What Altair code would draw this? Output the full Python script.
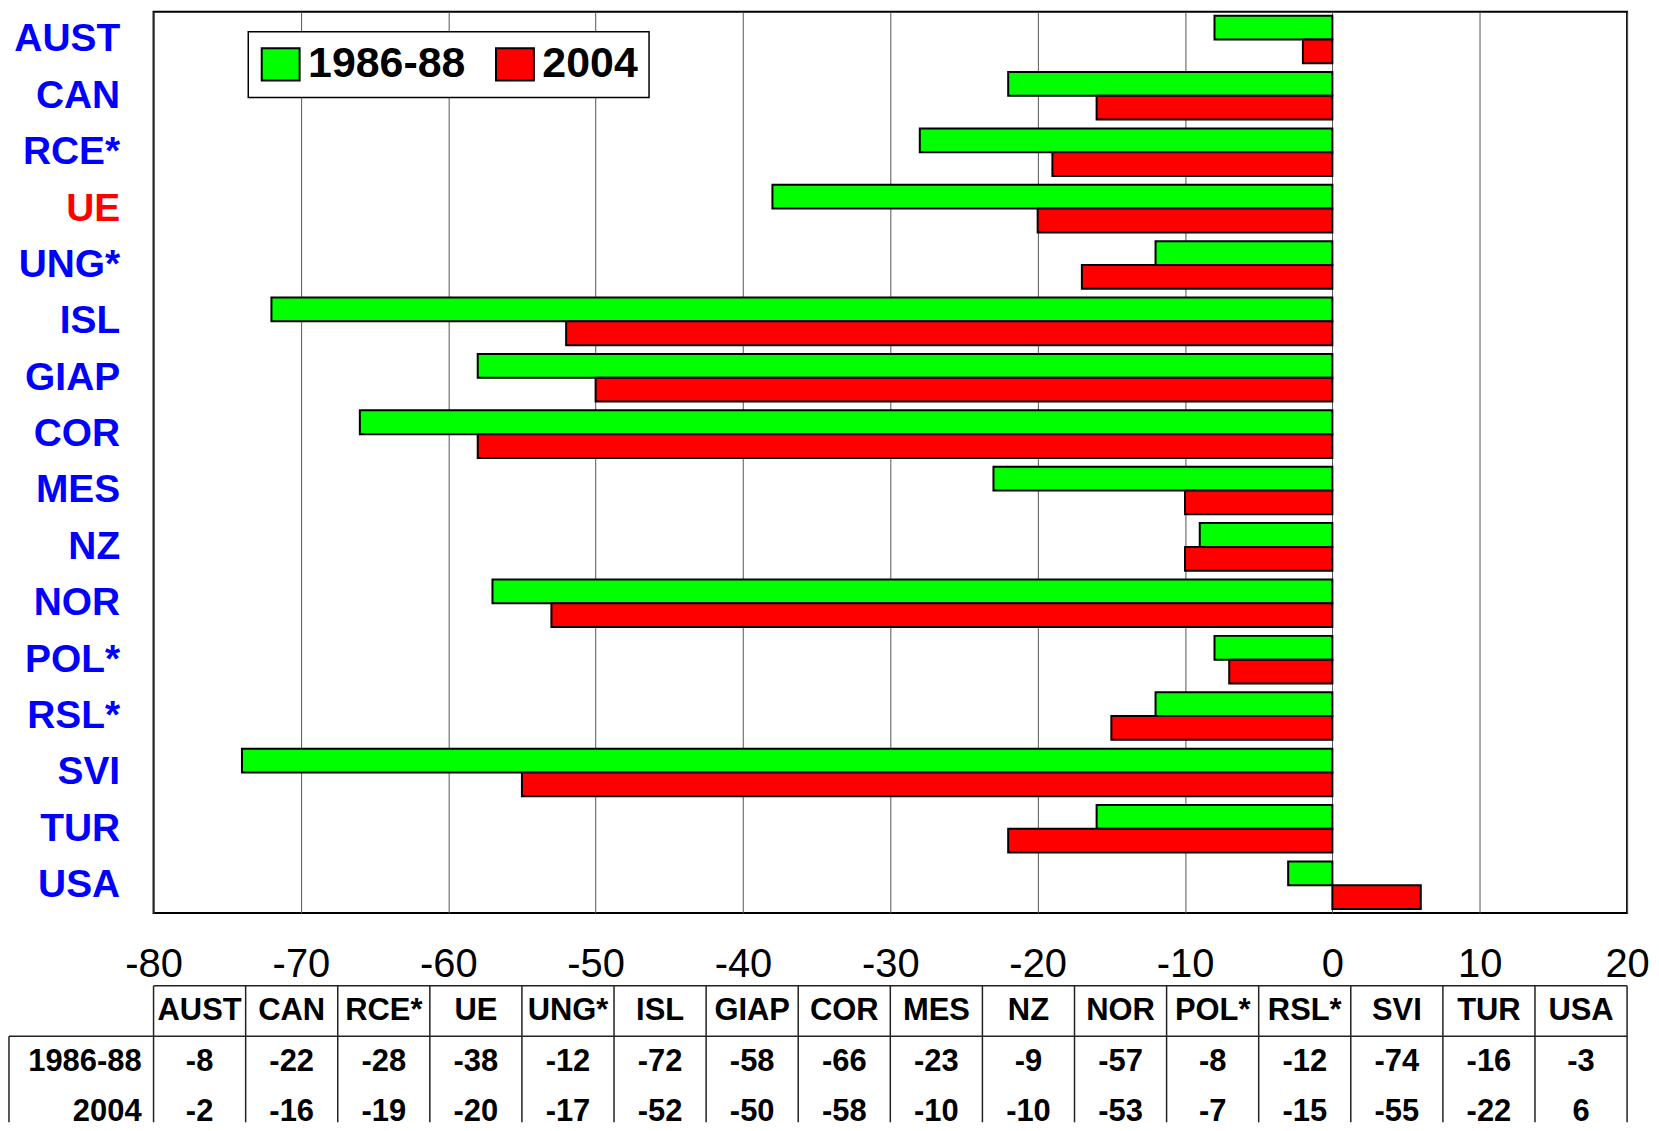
import altair as alt
import pandas as pd

# ---- data ----
countries = ["AUST", "CAN", "RCE*", "UE", "UNG*", "ISL", "GIAP", "COR",
             "MES", "NZ", "NOR", "POL*", "RSL*", "SVI", "TUR", "USA"]
series = ["1986-88", "2004"]
v1986 = [-8, -22, -28, -38, -12, -72, -58, -66, -23, -9, -57, -8, -12, -74, -16, -3]
v2004 = [-2, -16, -19, -20, -17, -52, -50, -58, -10, -10, -53, -7, -15, -55, -22, 6]
x_ticks = [-80, -70, -60, -50, -40, -30, -20, -10, 0, 10, 20]
colors = ["#00FF00", "#FF0000"]

FONT = "Liberation Sans, Arial, sans-serif"

# ---- bar chart ----
rows = []
for c, a, b in zip(countries, v1986, v2004):
    rows.append({"country": c, "series": series[0], "value": a})
    rows.append({"country": c, "series": series[1], "value": b})
bars_df = pd.DataFrame(rows)

bars = alt.Chart(bars_df).mark_bar(stroke="black", strokeWidth=2).encode(
    x=alt.X("value:Q",
            scale=alt.Scale(domain=[-80, 20], nice=False, zero=False),
            axis=alt.Axis(values=x_ticks, title=None, grid=True, gridColor="#555555",
                          gridWidth=1, domain=False, ticks=False, labelFontSize=40,
                          labelFont=FONT, labelColor="black", labelPadding=32,
                          labelExpr="'' + datum.value",
                          labelFlush=False, labelOverlap=False)),
    y=alt.Y("country:N", sort=countries,
            scale=alt.Scale(paddingInner=0.156, paddingOuter=0.07),
            axis=alt.Axis(title=None, domain=False, ticks=False, labelFontSize=39,
                          labelFontWeight="bold", labelFont=FONT,
                          labelColor=alt.expr("datum.value == 'UE' ? '#ff0000' : '#0000ff'"),
                          labelPadding=34)),
    yOffset=alt.YOffset("series:N", sort=series, scale=alt.Scale(paddingInner=0, paddingOuter=0)),
    color=alt.Color("series:N", sort=series,
                    scale=alt.Scale(domain=series, range=colors),
                    legend=alt.Legend(title=None, orient="none", legendX=95, legendY=20,
                                      direction="horizontal", fillColor="white",
                                      strokeColor="black", padding=11,
                                      symbolType="M-1,-0.85L1,-0.85L1,0.85L-1,0.85Z",
                                      symbolSize=1444, symbolStrokeColor="black",
                                      symbolStrokeWidth=2, symbolOpacity=1,
                                      labelFontSize=43, labelFontWeight="bold",
                                      labelFont=FONT, labelColor="black", labelOffset=6,
                                      columnPadding=26, labelLimit=400)),
).properties(width=1478, height=904,
             view=alt.ViewBackground(stroke="black", strokeWidth=2))

# ---- data table below the axis ----
LABEL_LEFT = -1.57   # left edge of the row-label column, in column units
TABLE_BOTTOM = 2.7

ncol = len(countries)
header_df = pd.DataFrame({"text": countries,
                          "col": [i + 0.5 for i in range(ncol)],
                          "row": [0.5] * ncol})
val_rows = []
for i, (a, b) in enumerate(zip(v1986, v2004)):
    val_rows.append({"text": str(a), "col": i + 0.5, "row": 1.5})
    val_rows.append({"text": str(b), "col": i + 0.5, "row": 2.5})
vals_df = pd.DataFrame(val_rows)
rowlab_df = pd.DataFrame({"text": series, "col": [0, 0], "row": [1.5, 2.5]})

line_rows = []
for i in range(ncol + 1):
    line_rows.append({"x": i, "x2": i, "y": 0, "y2": TABLE_BOTTOM})
line_rows.append({"x": LABEL_LEFT, "x2": LABEL_LEFT, "y": 1, "y2": TABLE_BOTTOM})
line_rows.append({"x": 0, "x2": ncol, "y": 0, "y2": 0})
line_rows.append({"x": LABEL_LEFT, "x2": ncol, "y": 1, "y2": 1})
lines_df = pd.DataFrame(line_rows)

xs = alt.Scale(domain=[0, ncol], nice=False, zero=False)
ys = alt.Scale(domain=[0, TABLE_BOTTOM], nice=False, zero=False, reverse=True)

tlines = alt.Chart(lines_df).mark_rule(color="#222222", strokeWidth=1.5).encode(
    x=alt.X("x:Q", scale=xs, axis=None), x2="x2:Q",
    y=alt.Y("y:Q", scale=ys, axis=None), y2="y2:Q")

theader = alt.Chart(header_df).mark_text(fontSize=31, fontWeight="bold", font=FONT,
                                         color="black", baseline="middle", align="center").encode(
    x=alt.X("col:Q", scale=xs, axis=None), y=alt.Y("row:Q", scale=ys, axis=None), text="text:N")

tvals = alt.Chart(vals_df).mark_text(fontSize=31, fontWeight="bold", font=FONT,
                                     color="black", baseline="middle", align="center").encode(
    x=alt.X("col:Q", scale=xs, axis=None), y=alt.Y("row:Q", scale=ys, axis=None), text="text:N")

trows = alt.Chart(rowlab_df).mark_text(fontSize=31, fontWeight="bold", font=FONT,
                                       color="black", baseline="middle", align="right", dx=-12).encode(
    x=alt.X("col:Q", scale=xs, axis=None), y=alt.Y("row:Q", scale=ys, axis=None), text="text:N")

table = alt.layer(tlines, theader, tvals, trows).properties(
    width=1478, height=137,
    view=alt.ViewBackground(stroke="transparent", strokeWidth=0))

chart = alt.vconcat(bars, table, spacing=73, bounds="flush").properties(
    padding={"left": 0, "top": 1, "right": 0, "bottom": 0}
).configure(font=FONT).configure_legend(strokeWidth=1.5)

chart.save("out.html", embed_options={"renderer": "svg", "actions": False})
